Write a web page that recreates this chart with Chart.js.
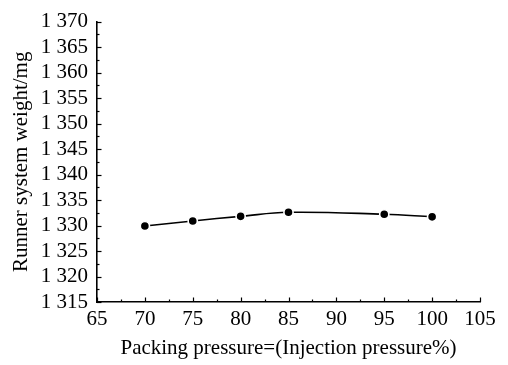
<!DOCTYPE html>
<html>
<head>
<meta charset="utf-8">
<script src="https://cdn.jsdelivr.net/npm/chart.js@4.4.1/dist/chart.umd.min.js"></script>
<style>
  html, body { margin: 0; padding: 0; background: #fff; }
  #wrap { width: 508px; height: 365px; }
</style>
</head>
<body>
<div id="wrap"><canvas id="c" width="508" height="365"></canvas></div>
<script>
// Packing pressure (% of injection pressure) and runner system weight (mg)
const packingPressure = [70, 75, 80, 85, 95, 100];
const runnerWeight = [1329.9, 1330.9, 1331.8, 1332.6, 1332.2, 1331.7];

const xMin = 65, xMax = 105, xStep = 5;
const yMin = 1315, yMax = 1370, yStep = 5;

const FONT = '"Liberation Serif", "Times New Roman", serif';
const FONT_SIZE = 21;

// Format thousands with a space: 1370 -> "1 370"
function spaced(v) {
  const s = String(Math.round(v));
  return s.replace(/\B(?=(\d{3})+(?!\d))/g, ' ');
}

// Inward major and minor tick marks on the left and bottom axes
const inwardTicks = {
  id: 'inwardTicks',
  afterDatasetsDraw(chart) {
    const { ctx, scales: { x, y } } = chart;
    ctx.save();
    ctx.strokeStyle = '#000';
    ctx.lineWidth = 1.2;
    const major = 4.5, minor = 2.5;
    for (let v = xMin; v <= xMax + 1e-9; v += xStep / 2) {
      const px = Math.round(x.getPixelForValue(v)) + 0.5;
      const len = (Math.abs((v - xMin) % xStep) < 1e-9) ? major : minor;
      ctx.beginPath();
      ctx.moveTo(px, y.bottom);
      ctx.lineTo(px, y.bottom - len);
      ctx.stroke();
    }
    for (let v = yMin; v <= yMax + 1e-9; v += yStep / 2) {
      const py = Math.round(y.getPixelForValue(v)) + 0.5;
      const len = (Math.abs((v - yMin) % yStep) < 1e-9) ? major : minor;
      ctx.beginPath();
      ctx.moveTo(x.left, py);
      ctx.lineTo(x.left + len, py);
      ctx.stroke();
    }
    ctx.restore();
  }
};

new Chart(document.getElementById('c'), {
  type: 'line',
  data: {
    datasets: [{
      data: packingPressure.map((p, i) => ({ x: p, y: runnerWeight[i] })),
      borderColor: '#000',
      borderWidth: 1.6,
      tension: 0.4,
      pointRadius: 4.6,
      pointBackgroundColor: '#000',
      pointBorderColor: '#fff',
      pointBorderWidth: 1.6,
      fill: false
    }]
  },
  options: {
    responsive: false,
    animation: false,
    devicePixelRatio: 1,
    layout: { padding: { top: 18, right: 28, left: 0, bottom: 0 } },
    plugins: { legend: { display: false }, tooltip: { enabled: false } },
    scales: {
      x: {
        type: 'linear',
        min: xMin, max: xMax,
        afterFit(s) { s.height = 63; },
        ticks: {
          stepSize: xStep,
          autoSkip: false,
          color: '#000',
          font: { family: FONT, size: FONT_SIZE },
          padding: 5,
          maxRotation: 0
        },
        grid: { display: true, drawOnChartArea: false, drawTicks: false },
        border: { display: true, color: '#000', width: 1.6 },
        title: {
          display: true,
          text: 'Packing pressure=(Injection pressure%)',
          color: '#000',
          font: { family: FONT, size: FONT_SIZE },
          padding: { top: 0, bottom: 4 }
        }
      },
      y: {
        type: 'linear',
        min: yMin, max: yMax,
        afterFit(s) { s.width = 97; },
        ticks: {
          stepSize: yStep,
          autoSkip: false,
          color: '#000',
          font: { family: FONT, size: FONT_SIZE },
          padding: 9,
          callback: (v) => spaced(v)
        },
        grid: { display: true, drawOnChartArea: false, drawTicks: false },
        border: { display: true, color: '#000', width: 1.6 },
        title: {
          display: true,
          text: 'Runner system weight/mg',
          color: '#000',
          font: { family: FONT, size: FONT_SIZE },
          padding: { top: 9, bottom: 0 }
        }
      }
    }
  },
  plugins: [inwardTicks]
});
</script>
</body>
</html>
